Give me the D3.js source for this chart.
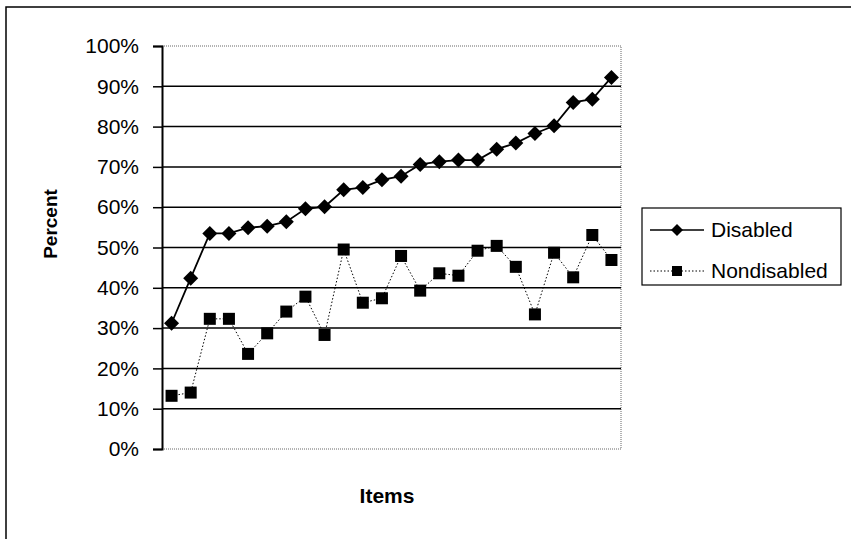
<!DOCTYPE html>
<html>
<head>
<meta charset="utf-8">
<script src="https://cdn.jsdelivr.net/npm/d3@7"></script>
<style>
  body { margin: 0; background: #fff; }
  svg { display: block; font-family: "Liberation Sans", Arial, sans-serif; }
</style>
</head>
<body>
<div id="container"></div>
<script>
// item index 1..24 (no tick labels on the x axis)
const items = d3.range(1, 25);
const disabled = [31.2, 42.4, 53.5, 53.5, 54.9, 55.3, 56.4, 59.6, 60.1, 64.3, 64.9, 66.8,
  67.7, 70.6, 71.3, 71.7, 71.7, 74.4, 75.9, 78.3, 80.2, 86.0, 86.8, 92.2];
const nondisabled = [13.2, 14.0, 32.3, 32.3, 23.6, 28.7, 34.1, 37.8, 28.3, 49.5, 36.3, 37.4,
  47.9, 39.3, 43.6, 43.0, 49.2, 50.4, 45.2, 33.4, 48.7, 42.6, 53.1, 46.9];
const yTicks = [0, 10, 20, 30, 40, 50, 60, 70, 80, 90, 100];
const seriesNames = ['Disabled', 'Nondisabled'];

const W = 851, H = 539;
const plot = { left: 162, right: 621, top: 46, bottom: 449 };

const svg = d3.select('#container').append('svg')
  .attr('width', W).attr('height', H);

// outer chart frame (only top and left edges show in the reference)
svg.append('path')
  .attr('d', `M6,${H} L6,7 L${W},7`)
  .attr('fill', 'none').attr('stroke', '#000').attr('stroke-width', 1.5);

const x = d3.scaleBand().domain(items).range([plot.left, plot.right]);
const y = d3.scaleLinear().domain([0, 100]).range([plot.bottom, plot.top]);

// plot border: dotted top/right/bottom
svg.append('path')
  .attr('d', `M${plot.left},${plot.top} H${plot.right} V${plot.bottom} H${plot.left}`)
  .attr('fill', 'none').attr('stroke', '#666').attr('stroke-width', 1)
  .attr('stroke-dasharray', '1,1');

// gridlines
svg.append('g').selectAll('line')
  .data(yTicks.filter(d => d > 0 && d < 100))
  .enter().append('line')
  .attr('x1', plot.left).attr('x2', plot.right)
  .attr('y1', d => y(d)).attr('y2', d => y(d))
  .attr('stroke', '#000').attr('stroke-width', 1.5);

// y axis
const yAxis = d3.axisLeft(y).tickValues(yTicks).tickSize(9).tickPadding(14)
  .tickFormat(d => d + '%');
const gy = svg.append('g').attr('transform', `translate(${plot.left},0)`).call(yAxis);
gy.select('.domain').attr('stroke', '#000').attr('stroke-width', 2);
gy.selectAll('.tick line').attr('stroke', '#000').attr('stroke-width', 1.5);
gy.selectAll('.tick text').attr('font-size', 21).attr('fill', '#000')
  .attr('font-family', '"Liberation Sans", Arial, sans-serif');

// axis titles
svg.append('text')
  .attr('transform', `translate(57,224) rotate(-90)`)
  .attr('text-anchor', 'middle')
  .attr('font-size', 19).attr('font-weight', 'bold')
  .text('Percent');
svg.append('text')
  .attr('x', 387).attr('y', 503)
  .attr('text-anchor', 'middle')
  .attr('font-size', 21).attr('font-weight', 'bold')
  .text('Items');

const cx = d => x(d) + x.bandwidth() / 2;
const line = d3.line().x((d, i) => cx(items[i])).y(d => y(d));

// Nondisabled: dotted line + squares
svg.append('path').datum(nondisabled)
  .attr('d', line).attr('fill', 'none')
  .attr('stroke', '#000').attr('stroke-width', 1).attr('stroke-dasharray', '1.5,2');
svg.append('g').selectAll('rect').data(nondisabled).enter().append('rect')
  .attr('x', (d, i) => cx(items[i]) - 6).attr('y', d => y(d) - 6)
  .attr('width', 12).attr('height', 12).attr('fill', '#000');

// Disabled: solid line + diamonds
svg.append('path').datum(disabled)
  .attr('d', line).attr('fill', 'none')
  .attr('stroke', '#000').attr('stroke-width', 1.8);
const diamond = 'M0,-7.5 L7.5,0 L0,7.5 L-7.5,0 Z';
svg.append('g').selectAll('path').data(disabled).enter().append('path')
  .attr('d', diamond)
  .attr('transform', (d, i) => `translate(${cx(items[i])},${y(d)})`)
  .attr('fill', '#000');

// legend
const lg = svg.append('g');
lg.append('rect').attr('x', 642).attr('y', 208).attr('width', 199).attr('height', 77)
  .attr('fill', '#fff').attr('stroke', '#000').attr('stroke-width', 1.2);
const rows = [230, 271];
seriesNames.forEach((name, i) => {
  const ly = rows[i];
  lg.append('line').attr('x1', 650).attr('x2', 704).attr('y1', ly).attr('y2', ly)
    .attr('stroke', '#000').attr('stroke-width', i === 0 ? 1.5 : 1)
    .attr('stroke-dasharray', i === 0 ? null : '1.5,2');
  if (i === 0) {
    lg.append('path').attr('d', 'M0,-6 L6,0 L0,6 L-6,0 Z')
      .attr('transform', `translate(677,${ly})`).attr('fill', '#000');
  } else {
    lg.append('rect').attr('x', 672).attr('y', ly - 5).attr('width', 10).attr('height', 10)
      .attr('fill', '#000');
  }
  lg.append('text').attr('x', 711).attr('y', ly + 7)
    .attr('font-size', 21).text(name);
});
</script>
</body>
</html>
